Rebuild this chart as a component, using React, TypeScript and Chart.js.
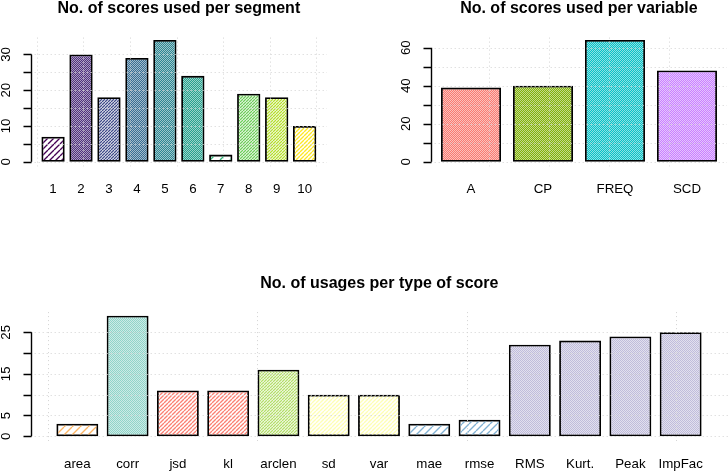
import React, { useEffect, useRef } from "react";
import { Chart, registerables } from "chart.js";

Chart.register(...registerables);

// ---- data ----
const segmentLabels = ["1", "2", "3", "4", "5", "6", "7", "8", "9", "10"];
const segmentCounts = [7, 30, 18, 29, 34, 24, 2, 19, 18, 10];
const segmentTicks = [0, 5, 10, 15, 20, 25, 30];
const segmentTickLabels = ["0", "", "10", "", "20", "", "30"];
const segmentGridX = [0, 2, 4, 6, 8, 10, 12];

const variableLabels = ["A", "CP", "FREQ", "SCD"];
const variableCounts = [39, 40, 64, 48];
const variableTicks = [0, 10, 20, 30, 40, 50, 60];
const variableTickLabels = ["0", "", "20", "", "40", "", "60"];
const variableGridX = [1, 2, 3, 4];

const scoreTypeLabels = ["area", "corr", "jsd", "kl", "arclen", "sd", "var", "mae", "rmse", "RMS", "Kurt.", "Peak", "ImpFac"];
const scoreTypeCounts = [3, 29, 11, 11, 16, 10, 10, 3, 4, 22, 23, 24, 25];
const scoreTypeTicks = [0, 5, 10, 15, 20, 25];
const scoreTypeTickLabels = ["0", "5", "", "15", "", "25"];
const scoreTypeGridX = [0, 5, 10, 15];

// ---- styles ----
const viridis10 = ["#440154", "#482878", "#3E4A89", "#31688E", "#26828E", "#1F9E89", "#35B779", "#6DCD59", "#B4DE2C", "#FDE725"];
const huePal4 = ["#F8766D", "#7CAE00", "#00BFC4", "#C77CFF"];
const set3Colors = ["#FDB462", "#8DD3C7", "#FB8072", "#FB8072", "#B3DE69", "#FFFFB3", "#FFFFB3", "#80B1D3", "#80B1D3", "#BEBADA", "#BEBADA", "#BEBADA", "#BEBADA"];

const FONT = '"Liberation Sans", Arial, Helvetica, sans-serif';
const BAR_WIDTH = 1;
const BAR_SPACE = 0.2;
const TITLE_GAP = 22.5;
const LABEL_GAP = 26.7;

// R barplot: bar i sits at space + width/2 + i*(width+space)
const barCenter = (i: number) => BAR_SPACE + BAR_WIDTH / 2 + i * (BAR_WIDTH + BAR_SPACE);

// denser hatching for bigger counts
const hatchPeriod = (v: number) => Math.max(2, Math.floor(75 / (v + 5.5)));

const makeHatch = (color: string, p: number) => {
  const tile = document.createElement("canvas");
  tile.width = p;
  tile.height = p;
  const c = tile.getContext("2d")!;
  c.strokeStyle = color;
  c.lineWidth = p <= 2 ? 1.15 : 1.35;
  c.beginPath();
  for (const o of [-p, 0, p]) {
    c.moveTo(o, p);
    c.lineTo(o + p, 0);
  }
  c.stroke();
  return c.createPattern(tile, "repeat")!;
};

type PlotProps = {
  title: string;
  labels: string[];
  values: number[];
  colors: string[];
  yTicks: number[];
  yTickLabels: string[];
  gridX: number[];
  xMin: number;
  xMax: number;
  padding: { left: number; right: number; top: number; bottom: number };
};

const RBarPlot = ({ title, labels, values, colors, yTicks, yTickLabels, gridX, xMin, xMax, padding }: PlotProps) => {
  const canvasRef = useRef<HTMLCanvasElement>(null);

  useEffect(() => {
    if (!canvasRef.current) return;
    const top = Math.max(...values);

    const rAxes = {
      id: "rAxes",
      afterDatasetsDraw(chart: any) {
        const { ctx, chartArea: area } = chart;
        const x = chart.scales.x;
        const y = chart.scales.y;
        const snap = (v: number) => Math.round(v) + 0.5;

        // grid() on top of the bars, like R
        ctx.save();
        ctx.beginPath();
        ctx.rect(area.left, area.top, area.right - area.left, area.bottom - area.top);
        ctx.clip();
        ctx.strokeStyle = "#D3D3D3";
        ctx.lineWidth = 1;
        ctx.setLineDash([1, 3]);
        yTicks.forEach((t) => {
          const py = snap(y.getPixelForValue(t));
          ctx.beginPath();
          ctx.moveTo(area.left, py);
          ctx.lineTo(area.right, py);
          ctx.stroke();
        });
        gridX.forEach((g) => {
          const px = snap(x.getPixelForValue(g));
          ctx.beginPath();
          ctx.moveTo(px, area.bottom);
          ctx.lineTo(px, area.top);
          ctx.stroke();
        });
        ctx.restore();

        // y axis
        ctx.save();
        ctx.strokeStyle = "#000";
        ctx.lineWidth = 1.4;
        const ax = snap(area.left);
        ctx.beginPath();
        ctx.moveTo(ax, y.getPixelForValue(yTicks[0]));
        ctx.lineTo(ax, y.getPixelForValue(yTicks[yTicks.length - 1]));
        yTicks.forEach((t) => {
          const py = snap(y.getPixelForValue(t));
          ctx.moveTo(ax, py);
          ctx.lineTo(ax - 8, py);
        });
        ctx.stroke();

        ctx.fillStyle = "#000";
        ctx.font = `13.3px ${FONT}`;
        ctx.textAlign = "center";
        ctx.textBaseline = "alphabetic";
        yTicks.forEach((t, i) => {
          if (!yTickLabels[i]) return;
          ctx.save();
          ctx.translate(area.left - 20.5, y.getPixelForValue(t));
          ctx.rotate(-Math.PI / 2);
          ctx.fillText(yTickLabels[i], 0, 0);
          ctx.restore();
        });

        // bar names
        const bars = chart.getDatasetMeta(0).data;
        labels.forEach((lab, i) => {
          ctx.fillText(lab, bars[i].x, area.bottom + LABEL_GAP);
        });

        // title
        ctx.font = `bold 16px ${FONT}`;
        ctx.fillText(title, (area.left + area.right) / 2, area.top - TITLE_GAP);
        ctx.restore();
      },
    };

    const chart = new Chart(canvasRef.current, {
      type: "bar",
      data: {
        labels,
        datasets: [
          {
            data: values.map((v, i) => ({ x: barCenter(i), y: v })),
            backgroundColor: values.map((v, i) => makeHatch(colors[i], hatchPeriod(v))),
            borderColor: "#000",
            borderWidth: 1.8,
            borderSkipped: false,
            categoryPercentage: 1,
            barPercentage: BAR_WIDTH / (BAR_WIDTH + BAR_SPACE),
          } as any,
        ],
      },
      options: {
        responsive: true,
        maintainAspectRatio: false,
        animation: false,
        events: [],
        layout: { padding },
        plugins: {
          legend: { display: false },
          tooltip: { enabled: false },
          title: { display: false },
        },
        scales: {
          x: {
            type: "linear",
            display: false,
            offset: false,
            min: xMin,
            max: xMax,
            afterBuildTicks: (s: any) => {
              s.ticks = values.map((_, i) => ({ value: barCenter(i) }));
            },
          },
          y: {
            type: "linear",
            display: false,
            min: -0.04 * top,
            max: 1.04 * top,
          },
        },
      },
      plugins: [rAxes],
    });

    return () => {
      chart.destroy();
    };
  }, [title, labels, values, colors, yTicks, yTickLabels, gridX, xMin, xMax, padding]);

  return (
    <div style={{ position: "relative", width: "100%", height: "100%" }}>
      <canvas ref={canvasRef} style={{ display: "block" }} />
    </div>
  );
};

const segPadding = { left: 30.7, right: 37, top: 35.2, bottom: 68.4 };
const varPadding = { left: 66.7, right: 1, top: 35.2, bottom: 68.4 };
const typePadding = { left: 30.7, right: 0, top: 75.8, bottom: 29.9 };

const App = () => {
  return (
    <div style={{ position: "fixed", left: 0, top: 0, width: 728, height: 471, background: "#fff" }}>
      <div style={{ position: "absolute", left: 0, top: 0, width: 364, height: 235 }}>
        <RBarPlot
          title="No. of scores used per segment"
          labels={segmentLabels}
          values={segmentCounts}
          colors={viridis10}
          yTicks={segmentTicks}
          yTickLabels={segmentTickLabels}
          gridX={segmentGridX}
          xMin={-0.26}
          xMax={12.46}
          padding={segPadding}
        />
      </div>
      <div style={{ position: "absolute", left: 364, top: 0, width: 364, height: 235 }}>
        <RBarPlot
          title="No. of scores used per variable"
          labels={variableLabels}
          values={variableCounts}
          colors={huePal4}
          yTicks={variableTicks}
          yTickLabels={variableTickLabels}
          gridX={variableGridX}
          xMin={0.028}
          xMax={4.967}
          padding={varPadding}
        />
      </div>
      <div style={{ position: "absolute", left: 0, top: 235, width: 728, height: 236 }}>
        <RBarPlot
          title="No. of usages per type of score"
          labels={scoreTypeLabels}
          values={scoreTypeCounts}
          colors={set3Colors}
          yTicks={scoreTypeTicks}
          yTickLabels={scoreTypeTickLabels}
          gridX={scoreTypeGridX}
          xMin={-0.413}
          xMax={16.23}
          padding={typePadding}
        />
      </div>
    </div>
  );
};

export default App;
